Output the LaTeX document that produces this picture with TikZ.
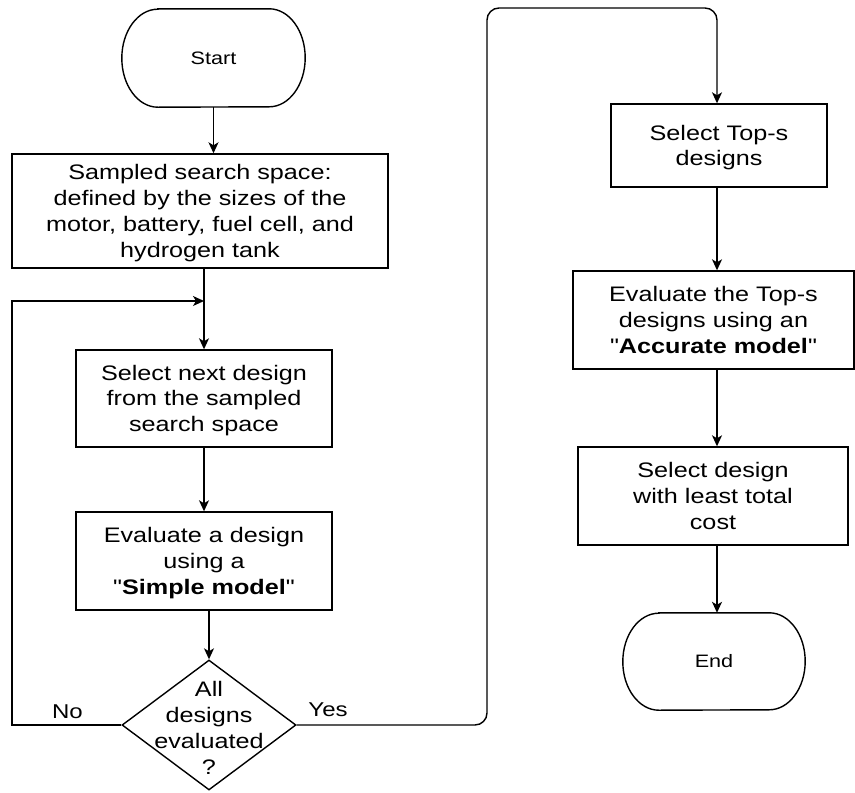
\documentclass[tikz,border=0pt]{standalone}
\usepackage{fontspec}
% a family of its own keeps the straight double quotes as typed
\newfontfamily\flowfont{Liberation Sans}[FakeStretch=1.2]
\usetikzlibrary{arrows.meta,shapes.geometric}
% line struts: text blocks are centred on full line boxes
\newcommand{\topstrut}{\rule{0pt}{20.3pt}}
\newcommand{\botstrut}{\rule[-5.5pt]{0pt}{5.5pt}}

\begin{document}
\begin{tikzpicture}[x=1pt,y=-1pt,
  line/.style={line width=1.4pt, draw=black},
  arr/.style={line, -{Stealth[length=11pt,width=10pt,inset=3pt]}},
  box/.style={draw, line width=1.4pt, rectangle, inner sep=0pt, align=center,
              font=\flowfont\fontsize{21}{25.8}\selectfont},
  term/.style={inner sep=0pt, font=\flowfont\fontsize{18}{22}\selectfont},
  decision/.style={draw, line width=1.4pt, diamond, inner sep=0pt,
                   minimum width=174pt, minimum height=130pt},
  dtext/.style={align=center, inner sep=0pt, font=\flowfont\fontsize{21}{26}\selectfont},
  lbl/.style={anchor=base, inner sep=0pt, font=\flowfont\fontsize{20}{24}\selectfont},
]
\useasboundingbox (0,0) rectangle (855,793);

% terminators (text only; outline drawn below)
\node[term, minimum width=183pt, minimum height=98pt] (start) at (213.5,58) {Start};
\node[term, minimum width=182pt, minimum height=97pt] (end) at (714,661.5) {End};

\draw[line] ([xshift=36pt]start.north west) -- ([xshift=-36pt]start.north east)
  arc[start angle=90, end angle=-90, x radius=36pt, y radius=49pt]
  -- ([xshift=36pt]start.south west)
  arc[start angle=270, end angle=90, x radius=36pt, y radius=49pt] -- cycle;
\draw[line] ([xshift=36pt]end.north west) -- ([xshift=-36pt]end.north east)
  arc[start angle=90, end angle=-90, x radius=36pt, y radius=48.5pt]
  -- ([xshift=36pt]end.south west)
  arc[start angle=270, end angle=90, x radius=36pt, y radius=48.5pt] -- cycle;

% process boxes, left column
\node[box, minimum width=376pt, minimum height=114pt] (space) at (200,211)
  {\topstrut Sampled search space:\\defined by the sizes of the\\motor, battery, fuel cell, and\\hydrogen tank\botstrut};
\node[box, minimum width=256pt, minimum height=97pt] (next) at (204,398.5)
  {\topstrut Select next design\\from the sampled\\search space\botstrut};
\node[box, minimum width=256pt, minimum height=98pt] (simple) at (204,561)
  {\topstrut Evaluate a design\\using a\\"\textbf{Simple model}"\botstrut};

% decision
\node[decision] (dec) at (209,725) {};
\node[dtext] (dectext) at (209,728.3) {All\\designs\\evaluated\\?};

% process boxes, right column
\node[box, minimum width=216pt, minimum height=83pt] (tops) at (719,145.5)
  {\topstrut Select Top-s\\designs\botstrut};
\node[box, minimum width=281pt, minimum height=98pt] (accurate) at (713.5,320)
  {\topstrut Evaluate the Top-s\\designs using an\\"\textbf{Accurate model}"\botstrut};
\node[box, minimum width=270pt, minimum height=98pt] (least) at (713,496)
  {\topstrut Select design\\with least total\\cost\botstrut};

% routing points
\coordinate (nocorner) at (12,301);
\coordinate (merge) at (204,301);
\coordinate (ytop) at (487,8);
\coordinate (rc) at (717,0);

% connectors
\draw[arr] (start.south) -- (start.south |- space.north);
\draw[arr] (next.north |- space.south) -- (next.north);
\draw[arr] (next.south) -- (simple.north);
\draw[arr] (dec.north |- simple.south) -- (dec.north);
\draw[arr] (dec.west) -| (nocorner) -- (merge);
\draw[arr, rounded corners=12pt] (dec.east) -| (ytop) -| (rc |- tops.north);
\draw[arr] (rc |- tops.south) -- (rc |- accurate.north);
\draw[arr] (rc |- accurate.south) -- (rc |- least.north);
\draw[arr] (rc |- least.south) -- (rc |- end.north);

% branch labels
\node[lbl] (nolbl) at (67.5,718) {No};
\node[lbl] (yeslbl) at (328,716) {Yes};
\end{tikzpicture}
\end{document}
